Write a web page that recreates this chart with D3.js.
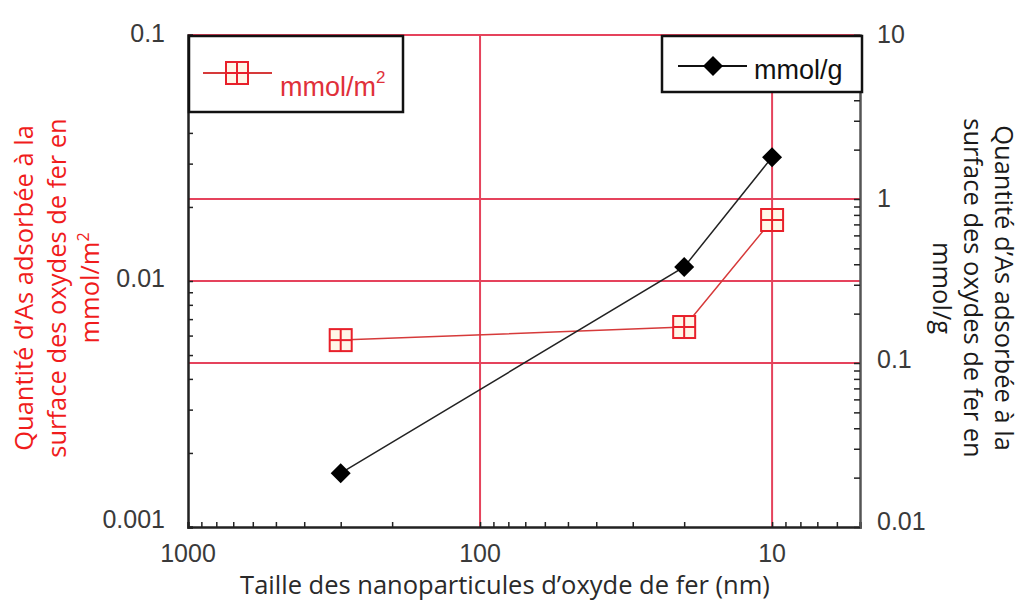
<!DOCTYPE html>
<html><head><meta charset="utf-8">
<script src="https://cdn.jsdelivr.net/npm/d3@7"></script>
<style>body{margin:0;background:#fff}svg{display:block}</style>
</head><body><svg id="c" width="1022" height="601"></svg>
<script>
const sizes = [300, 20, 10];
const mmolM2 = [0.00575, 0.0065, 0.0177];
const mmolG = [0.0213, 0.385, 1.80];
const xTicks = [1000, 100, 10];
const leftTicks = [0.1, 0.01, 0.001];
const rightTicks = [10, 1, 0.1, 0.01];
const leftTickLabels = ["0.1", "0.01", "0.001"];
const rightTickLabels = ["10", "1", "0.1", "0.01"];

const svg = d3.select("#c");
const L = 188, R = 860, T = 35, B = 527;
const x = d3.scaleLog().domain([1000, 5]).range([L, R]);
const yL = d3.scaleLog().domain([0.001, 0.1]).range([B, T]);
const yR = d3.scaleLog().domain([0.01, 10]).range([B, T]);
const gridC = "#e5435c";
const tickFont = "'Liberation Sans', Arial, sans-serif";
const titleFont = "'Open Sans', 'Noto Sans', sans-serif";

// gridlines
const g = svg.append("g");
xTicks.filter(v => v !== 1000).forEach(v => {
  g.append("line").attr("x1", x(v)).attr("x2", x(v)).attr("y1", T).attr("y2", B)
    .attr("stroke", gridC).attr("stroke-width", 2);
});
[yR(1), yL(0.01), yR(0.1)].forEach(yy => {
  g.append("line").attr("x1", L).attr("x2", R).attr("y1", yy).attr("y2", yy)
    .attr("stroke", gridC).attr("stroke-width", 2);
});
g.append("line").attr("x1", L).attr("x2", R).attr("y1", T).attr("y2", T)
  .attr("stroke", gridC).attr("stroke-width", 2);

// axes
function minorTicks(lo, hi) {
  const out = [];
  for (let d = Math.pow(10, Math.floor(Math.log10(lo))); d < hi; d *= 10) {
    for (let k = 1; k < 10; k++) { const v = k * d; if (v >= lo && v <= hi) out.push(v); }
  }
  return out;
}
const axB = d3.axisBottom(x).tickValues(minorTicks(5, 1000)).tickSize(-5).tickFormat("");
const gB = svg.append("g").attr("transform", `translate(0,${B})`).call(axB);
const axL = d3.axisLeft(yL).tickValues(minorTicks(0.001, 0.1)).tickSize(-5).tickFormat("");
const gL = svg.append("g").attr("transform", `translate(${L},0)`).call(axL);
const axR = d3.axisRight(yR).tickValues(minorTicks(0.01, 10)).tickSize(-6).tickFormat("");
const gR = svg.append("g").attr("transform", `translate(${R},0)`).call(axR);
[gB, gL, gR].forEach(a => {
  a.select(".domain").attr("stroke", "#222").attr("stroke-width", 2.5);
  a.selectAll(".tick line").attr("stroke", "#222").attr("stroke-width", 1.5);
});
gR.select(".domain").attr("stroke", "#555");

// tick labels
const tl = svg.append("g").attr("font-family", tickFont).attr("font-size", 25).attr("fill", "#3a3a3a");
xTicks.forEach(v => tl.append("text").attr("x", x(v)).attr("y", B + 35).attr("text-anchor", "middle").text(v));
const lOff = [7, 6, 1];
leftTicks.forEach((v, i) => tl.append("text").attr("x", 165).attr("y", yL(v) + lOff[i])
  .attr("text-anchor", "end").text(leftTickLabels[i]));
const rOff = [8, 8, 5, 3];
rightTicks.forEach((v, i) => tl.append("text").attr("x", 877).attr("y", yR(v) + rOff[i])
  .attr("text-anchor", "start").text(rightTickLabels[i]));

// series
const lineG = d3.line().x((d, i) => x(sizes[i])).y(d => yR(d));
const lineS = d3.line().x((d, i) => x(sizes[i])).y(d => yL(d));
svg.append("path").attr("d", lineS(mmolM2)).attr("fill", "none").attr("stroke", "#d63a3a").attr("stroke-width", 1.5);
svg.append("path").attr("d", lineG(mmolG)).attr("fill", "none").attr("stroke", "#222").attr("stroke-width", 1.5);

function squareMarker(sel, cx, cy) {
  const s = 11;
  sel.append("rect").attr("x", cx - s).attr("y", cy - s).attr("width", 2 * s).attr("height", 2 * s)
    .attr("fill", "#fff6e8").attr("stroke", "#e8202a").attr("stroke-width", 2);
  sel.append("line").attr("x1", cx).attr("x2", cx).attr("y1", cy - s).attr("y2", cy + s).attr("stroke", "#e8202a").attr("stroke-width", 2);
  sel.append("line").attr("x1", cx - s).attr("x2", cx + s).attr("y1", cy).attr("y2", cy).attr("stroke", "#e8202a").attr("stroke-width", 2);
}
function diamondMarker(sel, cx, cy) {
  const s = 10;
  sel.append("path").attr("d", `M${cx},${cy - s}L${cx + s},${cy}L${cx},${cy + s}L${cx - s},${cy}Z`).attr("fill", "#000");
}
const mk = svg.append("g");
mmolM2.forEach((v, i) => squareMarker(mk, x(sizes[i]), yL(v)));
mmolG.forEach((v, i) => diamondMarker(mk, x(sizes[i]), yR(v)));

// legends
const lg = svg.append("g");
lg.append("rect").attr("x", 189).attr("y", 36).attr("width", 214).attr("height", 76)
  .attr("fill", "#fff").attr("stroke", "#111").attr("stroke-width", 2.5);
lg.append("line").attr("x1", 203).attr("x2", 272).attr("y1", 73).attr("y2", 73).attr("stroke", "#d63a3a").attr("stroke-width", 2);
squareMarker(lg, 237, 73);
const lt = lg.append("text").attr("x", 280).attr("y", 96).attr("font-family", tickFont).attr("font-size", 27).attr("fill", "#e0303a");
lt.append("tspan").text("mmol/m");
lt.append("tspan").attr("dy", -13).attr("font-size", 17).text("2");

lg.append("rect").attr("x", 662).attr("y", 36).attr("width", 200).attr("height", 56)
  .attr("fill", "#fff").attr("stroke", "#111").attr("stroke-width", 2.5);
lg.append("line").attr("x1", 678).attr("x2", 747).attr("y1", 66).attr("y2", 66).attr("stroke", "#111").attr("stroke-width", 2);
diamondMarker(lg, 713, 66);
lg.append("text").attr("x", 754).attr("y", 79).attr("font-family", tickFont).attr("font-size", 27).attr("fill", "#111").text("mmol/g");

// titles
svg.append("text").attr("x", 505).attr("y", 594).attr("text-anchor", "middle")
  .attr("font-family", titleFont).attr("font-size", 25.5).attr("fill", "#2a2a2a")
  .text("Taille des nanoparticules d\u2019oxyde de fer (nm)");

const ltg = svg.append("g").attr("transform", "translate(0,288) rotate(-90)")
  .attr("font-family", titleFont).attr("font-size", 25.5).attr("fill", "#f01c1c").attr("text-anchor", "middle");
ltg.append("text").attr("x", 0).attr("y", 33).text("Quantit\u00e9 d\u2019As adsorb\u00e9e \u00e0 la");
ltg.append("text").attr("x", 0).attr("y", 66).text("surface des oxydes de fer en");
const lt3 = ltg.append("text").attr("x", 0).attr("y", 99);
lt3.append("tspan").text("mmol/m");
lt3.append("tspan").attr("dy", -10).attr("font-size", 16).text("2");

const rtg = svg.append("g").attr("transform", "translate(1022,288) rotate(90)")
  .attr("font-family", titleFont).attr("font-size", 25.5).attr("fill", "#1a1a1a").attr("text-anchor", "middle");
rtg.append("text").attr("x", 0).attr("y", 27).text("Quantit\u00e9 d\u2019As adsorb\u00e9e \u00e0 la");
rtg.append("text").attr("x", 0).attr("y", 58).text("surface des oxydes de fer en");
rtg.append("text").attr("x", 0).attr("y", 89).text("mmol/g");
</script></body></html>
